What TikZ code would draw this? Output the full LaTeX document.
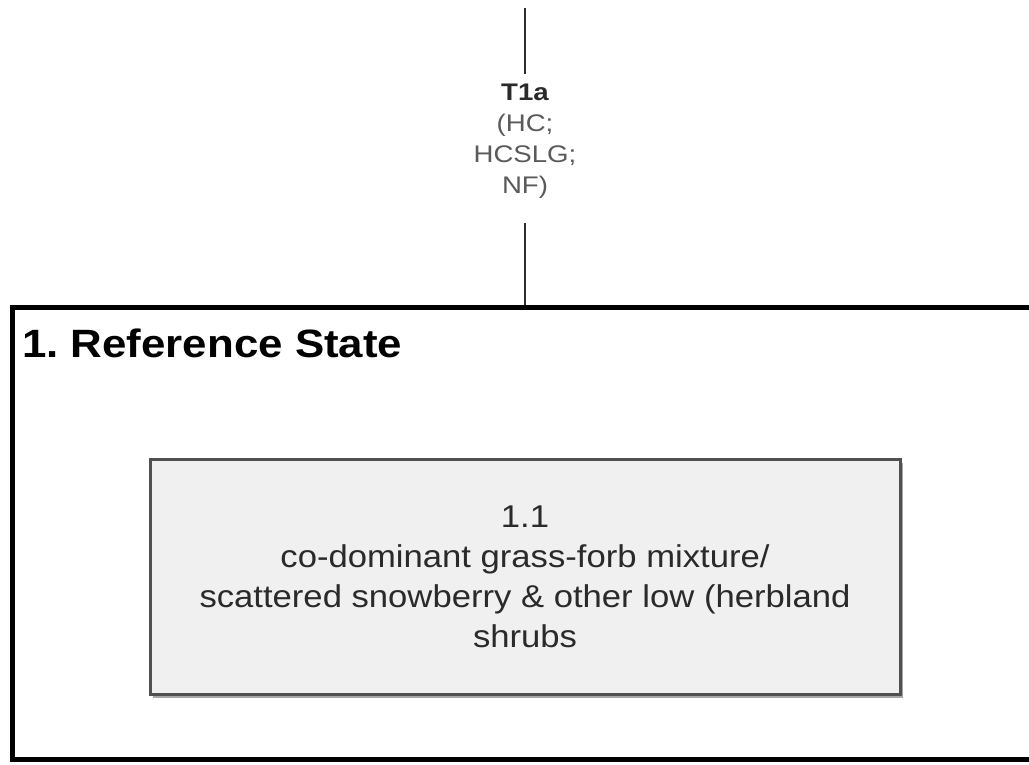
\documentclass[tikz,border=0pt]{standalone}
\usepackage{fontspec}
\setmainfont{Liberation Sans}
\newfontfamily\titlefont[FakeStretch=1.11]{Liberation Sans}
\newfontfamily\boxfont[FakeStretch=1.1]{Liberation Sans}
\newfontfamily\lblfont[FakeStretch=1.15]{Liberation Sans}
\usetikzlibrary{shadows}
\definecolor{linegray}{HTML}{2E2E2E}
\definecolor{boxborder}{HTML}{505050}
\definecolor{boxfill}{HTML}{F0F0F0}
\definecolor{textdark}{HTML}{2A2A2A}
\definecolor{lbltext}{HTML}{5A5A5A}
\begin{document}
\frenchspacing
\begin{tikzpicture}[x=1pt,y=-1pt,
  statebox/.style={draw=black, line width=5.5pt, fill=white,
    minimum width=1027.5pt, minimum height=452pt, inner sep=0pt,
    drop shadow={shadow xshift=2pt, shadow yshift=-2pt, fill=black!30, opacity=1}},
  phasebox/.style={draw=boxborder, line width=3pt, fill=boxfill,
    minimum width=750pt, minimum height=235pt, inner sep=0pt, align=center,
    text=textdark, font={\boxfont\fontsize{31.5}{40}\selectfont},
    drop shadow={shadow xshift=3pt, shadow yshift=-3pt, fill=black!35, opacity=1}},
  titletext/.style={inner sep=0pt, text=black, font={\titlefont\bfseries\fontsize{39.5}{47}\selectfont}},
  trlabel/.style={inner xsep=0pt, inner ysep=10pt, align=center, text=lbltext,
    font={\lblfont\fontsize{24}{31}\selectfont}},
  connector/.style={draw=linegray, line width=2.8pt}
]
\useasboundingbox (0,0) rectangle (1029,764);
\clip (0,0) rectangle (1029,764);
\fill[white] (0,0) rectangle (1029,764);

\node[statebox] (outer) at (526.25,533.5) {};
\node[titletext, anchor=base west] (ttl) at (22,357) {1. Reference State};
\node[phasebox] (p11) at (525,577) {1.1\\co-dominant grass-forb mixture/\\scattered snowberry \& other low (herbland\\shrubs};

\coordinate (topc) at (525,8);
\node[trlabel] (lbl) at (525,141.5) {\textcolor{textdark}{\textbf{T1a}}\\(HC;\\HCSLG;\\NF)};
\draw[connector] (topc) -- (lbl.north);
\draw[connector, shorten <=14pt] (lbl.south) -- (lbl.south |- outer.north);
\end{tikzpicture}
\end{document}
